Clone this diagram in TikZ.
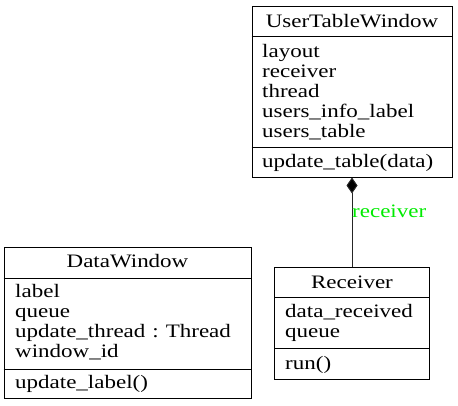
\documentclass[tikz,border=0pt]{standalone}
\usepackage{fontspec}
\setmainfont[FakeStretch=1.21]{Liberation Serif}
\usetikzlibrary{arrows.meta}
\definecolor{lblgreen}{RGB}{0,235,0}
\begin{document}
\begin{tikzpicture}[x=1pt,y=-1pt,
  umlbox/.style={draw=black, line width=1pt, inner sep=0pt},
  txt/.style={anchor=base west, inner sep=0pt, font=\fontsize{19}{20}\selectfont},
  ttl/.style={anchor=base, inner sep=0pt, font=\fontsize{19}{20}\selectfont},
  divider/.style={draw=black, line width=1pt},
  assoc/.style={draw=black!85, line width=1pt},
  lbl/.style={anchor=base west, inner sep=0pt, text=lblgreen, font=\fontsize{19}{20}\selectfont}
]
\useasboundingbox (0,0) rectangle (458,405);
% UserTableWindow
\node[umlbox, minimum width=200pt, minimum height=171pt] (utw) at (352,91.5) {};
\draw[divider] (utw.west |- 0,36) -- (utw.east |- 0,36);
\draw[divider] (utw.west |- 0,147) -- (utw.east |- 0,147);
\node[ttl] (utwT) at (352,27) {UserTableWindow};
\node[txt] (utwA1) at (262,57) {layout};
\node[txt] (utwA2) at (262,77) {receiver};
\node[txt] (utwA3) at (262,97) {thread};
\node[txt] (utwA4) at (262,117) {users\_info\_label};
\node[txt] (utwA5) at (262,137) {users\_table};
\node[txt] (utwM1) at (262,167) {update\_table(data)};
% DataWindow
\node[umlbox, minimum width=247pt, minimum height=151pt] (dw) at (127.5,322.5) {};
\draw[divider] (dw.west |- 0,278) -- (dw.east |- 0,278);
\draw[divider] (dw.west |- 0,369) -- (dw.east |- 0,369);
\node[ttl] (dwT) at (127.5,267) {DataWindow};
\node[txt] (dwA1) at (15,297) {label};
\node[txt] (dwA2) at (15,317) {queue};
\node[txt] (dwA3) at (15,337) {update\_thread\hspace{7pt}:\hspace{7pt}Thread};
\node[txt] (dwA4) at (15,357) {window\_id};
\node[txt] (dwM1) at (15,388) {update\_label()};
% Receiver
\node[umlbox, minimum width=155pt, minimum height=112pt] (rec) at (352,323) {};
\draw[divider] (rec.west |- 0,297) -- (rec.east |- 0,297);
\draw[divider] (rec.west |- 0,348) -- (rec.east |- 0,348);
\node[ttl] (recT) at (352,288) {Receiver};
\node[txt] (recA1) at (285,317) {data\_received};
\node[txt] (recA2) at (285,337) {queue};
\node[txt] (recM1) at (285,369) {run()};
% composition
\draw[assoc, {Diamond[width=11pt,length=16pt,fill=black]}-] (utw.south) -- (utw.south |- rec.north);
\node[lbl] (recLbl) at (352,217) {receiver};
\end{tikzpicture}
\end{document}
